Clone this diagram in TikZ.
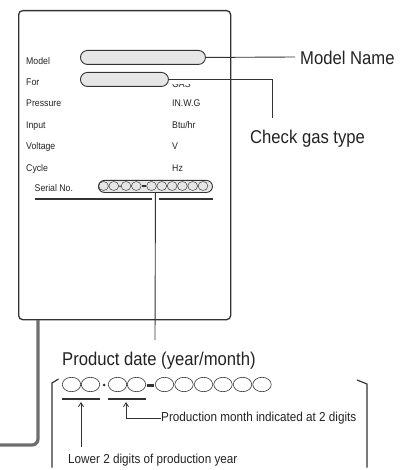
\documentclass[tikz,border=0pt]{standalone}
\usepackage{fontspec}
\setmainfont{Liberation Sans}[FakeStretch=0.9]
\usetikzlibrary{arrows.meta}
\definecolor{ink}{HTML}{222222}
\definecolor{frame}{HTML}{333333}
\definecolor{pillfill}{HTML}{E6E6E6}
\definecolor{cable}{HTML}{6E6E6E}
\begin{document}
\begin{tikzpicture}[x=1pt,y=-1pt,
  small/.style={font=\fontsize{9.7}{11}\selectfont, text=ink, anchor=base west, inner sep=0},
  midtext/.style={font=\fontsize{13}{15}\selectfont, text=ink, anchor=base west, inner sep=0},
  bigtext/.style={font=\fontsize{18.5}{21}\selectfont, text=ink, anchor=base west, inner sep=0},
  pill/.style={draw=frame, fill=pillfill, line width=0.9pt, inner sep=0, anchor=north west},
  link/.style={draw=frame, line width=0.9pt},
  digit/.style={draw=frame, line width=0.6pt},
  bracket/.style={draw=frame, line width=1.2pt},
  tip/.style={-{Straight Barb[length=4pt,width=5pt]}}
]
\useasboundingbox (0,0) rectangle (411,470);

% rating plate
\node[draw=frame, line width=1.3pt, rounded corners=4pt, minimum width=212pt, minimum height=309pt,
      inner sep=0, anchor=north west] (plate) at (18,10) {};

% cable
\draw[cable, line width=3.2pt, rounded corners=6pt] (38,320) -- (38,445) -- (-3,445);

% labels
\node[small] (lmodel) at (26,64.5) {Model};
\node[small] (lfor) at (26,86) {For};
\node[small] (lpress) at (26,107) {Pressure};
\node[small] (linput) at (26,128.5) {Input};
\node[small] (lvolt) at (26,150) {Voltage};
\node[small] (lcycle) at (26,171.5) {Cycle};
\node[small] (lserial) at (34.5,192) {Serial No.};

\node[small] (ugas) at (172,87.5) {GAS};
\fill[white] (170,74) rectangle (200,83.6);
\node[small] (upress) at (172,107) {IN.W.G};
\node[small] (uinput) at (172,128.5) {Btu/hr};
\node[small] (uvolt) at (172,150) {V};
\node[small] (ucycle) at (172,171.5) {Hz};

% pills
\node[pill, rounded corners=7pt, minimum width=125pt, minimum height=14pt] (modelpill) at (80,50) {};
\node[pill, rounded corners=7pt, minimum width=88pt, minimum height=14pt] (forpill) at (80,72) {};
\node[pill, rounded corners=6pt, minimum width=114pt, minimum height=12pt] (serialpill) at (98,180) {};

% serial digits in the pill
\foreach \cx in {103.5,113.8,126,136.3,151.5,161.8,172.1,182.4,192.7,203}
  \draw[frame, line width=0.45pt] (\cx,186) ellipse [x radius=4.9, y radius=4.5];
\fill[frame] (120,186.3) circle (0.9);
\fill[frame] (141.6,185.4) rectangle (145.6,187.2);

% underline of serial number
\draw[frame, line width=1.2pt] (35,199) -- (151.5,199);
\draw[frame, line width=1.2pt] (158.5,199) -- (213,199);

% callouts
\node[bigtext] (modelname) at (300,65) {Model Name};
\coordinate (mnend) at (295,57);
\draw[link] (modelpill.east) -- (mnend);

\node[bigtext] (gastype) at (250,143.3) {Check gas type};
\coordinate (gasend) at (272,118);
\draw[link] (forpill.east) -| (gasend);

\node[bigtext] (proddate) at (62,365) {Product date (year/month)};
\coordinate (pdend) at (155,340);
\draw[link] (serialpill.south) -- (pdend);

% bracket
\draw[bracket] (58.5,379) -- (52,383) -- (52,467.5);
\draw[bracket] (357,380) -- (367,384) -- (367,467.5);

% big serial number
\foreach \cx in {71.5,90.5,117.5,136.5,164.5,184,203.5,223,242.5,262}
  \draw[digit] (\cx,384.5) ellipse [x radius=9.2, y radius=7.2];
\fill[frame] (104.2,385) circle (1.5);
\fill[frame] (147,383.6) rectangle (153.5,386.6);

\draw[frame, line width=2pt] (62,399) -- (100,399);
\draw[frame, line width=2pt] (108,399) -- (146,399);

% explanations
\node[midtext] (monthtxt) at (161,421.7) {Production month indicated at 2 digits};
\node[midtext] (yeartxt) at (68,463.3) {Lower 2 digits of production year};
\coordinate (montharrow) at (126,402);
\coordinate (yeararrow) at (81,402);
\coordinate (yearfoot) at (81,447);
\draw[link, line width=0.8pt, tip] (monthtxt.west) -| (montharrow);
\draw[link, line width=0.8pt, tip] (yearfoot) -- (yeararrow);
\end{tikzpicture}
\end{document}
